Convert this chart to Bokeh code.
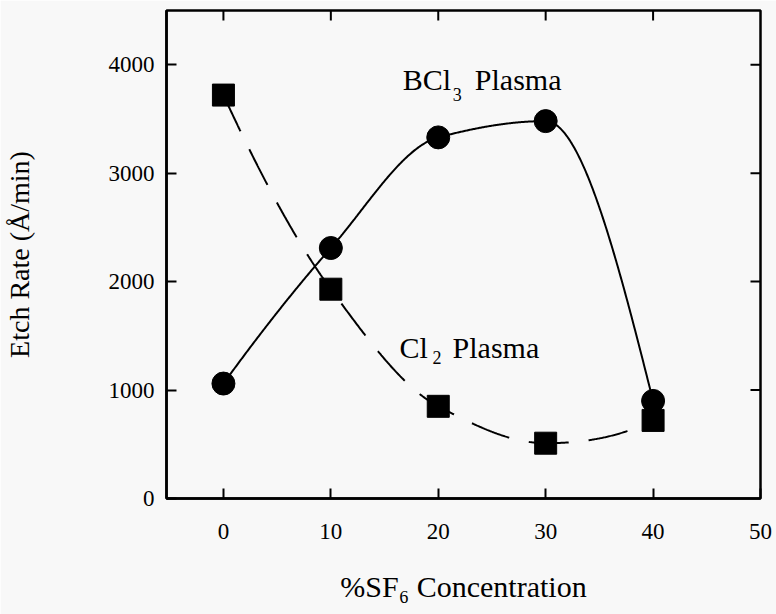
import numpy as np
from bokeh.plotting import figure
from bokeh.models import FixedTicker, Range1d
from bokeh.core.properties import value
from bokeh.embed import file_html
from bokeh.resources import INLINE

# ---- data ----
sf6_pct = [0, 10, 20, 30, 40]
bcl3_rate = [1060, 2310, 3330, 3480, 900]
cl2_rate = [3720, 1930, 850, 510, 720]
x_ticks = [0, 10, 20, 30, 40, 50]
y_ticks = [0, 1000, 2000, 3000, 4000]

X_MIN, X_MAX = -5.3, 50
Y_MIN, Y_MAX = 0, 4500

FONT = "Liberation Serif"
BG = "#f8f8f8"


def pchip_curve(x, y, n=120):
    """Monotone cubic (PCHIP) smooth curve through the data points."""
    x = np.asarray(x, float)
    y = np.asarray(y, float)
    h = np.diff(x)
    d = np.diff(y) / h
    m = np.zeros_like(y)
    for k in range(1, len(x) - 1):
        if d[k - 1] * d[k] <= 0:
            m[k] = 0.0
        else:
            w1 = 2 * h[k] + h[k - 1]
            w2 = h[k] + 2 * h[k - 1]
            m[k] = (w1 + w2) / (w1 / d[k - 1] + w2 / d[k])

    def end(h0, h1, d0, d1):
        mm = ((2 * h0 + h1) * d0 - h0 * d1) / (h0 + h1)
        if np.sign(mm) != np.sign(d0):
            mm = 0.0
        elif np.sign(d0) != np.sign(d1) and abs(mm) > abs(3 * d0):
            mm = 3 * d0
        return mm

    m[0] = end(h[0], h[1], d[0], d[1])
    m[-1] = end(h[-1], h[-2], d[-1], d[-2])
    xs, ys = [], []
    t = np.linspace(0, 1, n)
    h00 = 2 * t**3 - 3 * t**2 + 1
    h10 = t**3 - 2 * t**2 + t
    h01 = -2 * t**3 + 3 * t**2
    h11 = t**3 - t**2
    for k in range(len(h)):
        xs.append(x[k] + t * h[k])
        ys.append(h00 * y[k] + h10 * h[k] * m[k] + h01 * y[k + 1] + h11 * h[k] * m[k + 1])
    return np.concatenate(xs), np.concatenate(ys)


p = figure(frame_width=594, frame_height=488,
           x_range=Range1d(X_MIN, X_MAX), y_range=Range1d(Y_MIN, Y_MAX),
           output_backend="svg", toolbar_location=None,
           min_border_left=166, min_border_right=16,
           min_border_top=10, min_border_bottom=116,
           background_fill_color=BG, border_fill_color=BG)
p.grid.visible = False
p.outline_line_color = "black"
p.outline_line_width = 2.5

xa = p.xaxis[0]
xa.ticker = FixedTicker(ticks=x_ticks)
ya = p.yaxis[0]
ya.ticker = FixedTicker(ticks=y_ticks)
for ax in (xa, ya):
    ax.axis_line_width = 2.5
    ax.axis_line_color = "black"
    ax.major_tick_in = 10
    ax.major_tick_out = 0
    ax.major_tick_line_width = 2
    ax.minor_tick_line_color = None
    ax.major_label_text_font = FONT
    ax.major_label_text_font_size = "23px"
    ax.major_label_text_color = "black"
    ax.axis_label_text_font = FONT
    ax.axis_label_text_font_style = "normal"
    ax.axis_label_text_color = "black"

xa.axis_label_text_font_size = "30px"
ya.axis_label_text_font_size = "28px"
xa.major_label_standoff = 25
ya.major_label_standoff = 12
xa.axis_label = "%SF\u2086 Concentration"
ya.axis_label = "Etch Rate (\u00c5/min)"
xa.axis_label_standoff = 28
ya.axis_label_standoff = 71

# mirrored inward ticks on the top and right frame edges
p.ray(x=x_ticks[:-1], y=[Y_MAX] * (len(x_ticks) - 1), length=10,
      length_units="screen", angle=-np.pi / 2, line_color="black", line_width=2)
p.ray(x=[X_MAX] * (len(y_ticks) - 1), y=y_ticks[1:], length=10,
      length_units="screen", angle=np.pi, line_color="black", line_width=2)

# curves
bx, by = pchip_curve(sf6_pct, bcl3_rate)
cx, cy = pchip_curve(sf6_pct, cl2_rate)
p.line(bx, by, line_color="black", line_width=2)
p.line(cx, cy, line_color="black", line_width=2, line_dash="40 20")

# markers
p.scatter(sf6_pct, bcl3_rate, marker="circle", size=23, color="black")
p.scatter(sf6_pct, cl2_rate, marker="square", size=22, color="black")


# annotations
def label(x, y, main, sub, rest, sub_dx, sub_dy, rest_dx):
    common = dict(text_font=value(FONT), text_color="black",
                  text_baseline="alphabetic", text_align="left")
    p.text(x=[x], y=[y], text=[main], text_font_size="30px", **common)
    p.text(x=[x], y=[y], text=[sub], text_font_size="18px",
           x_offset=sub_dx, y_offset=sub_dy, **common)
    p.text(x=[x], y=[y], text=[rest], text_font_size="30px",
           x_offset=rest_dx, **common)


label(16.7, 3860, "BCl", "3", "Plasma", 50, 15, 72)
label(16.4, 1390, "Cl", "2", "Plasma", 33, 10, 53)

open("out.html", "w").write(file_html(p, INLINE))
